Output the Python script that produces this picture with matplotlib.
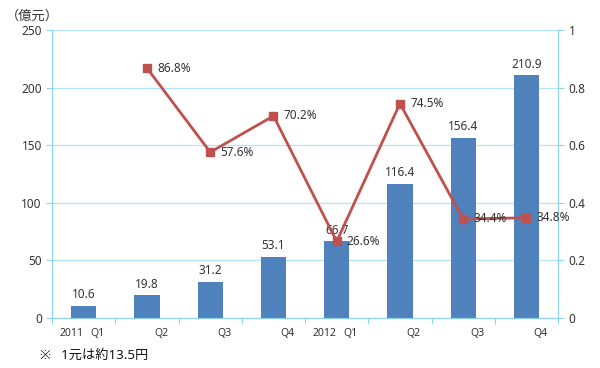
import numpy as np
import matplotlib
matplotlib.use('Agg')
import matplotlib.pyplot as plt
import matplotlib.transforms as mtransforms

plt.rcParams['font.family'] = ['Noto Sans', 'Noto Sans CJK JP', 'DejaVu Sans']

# data
quarters = ['Q1', 'Q2', 'Q3', 'Q4', 'Q1', 'Q2', 'Q3', 'Q4']
years = {0: '2011', 4: '2012'}
sales = [10.6, 19.8, 31.2, 53.1, 66.7, 116.4, 156.4, 210.9]
growth = [None, 0.868, 0.576, 0.702, 0.266, 0.745, 0.344, 0.348]
growth_lbl = ['', '86.8%', '57.6%', '70.2%', '26.6%', '74.5%', '34.4%', '34.8%']

bar_c = '#4F81BD'
line_c = '#C0504D'
axis_c = '#8FD3F0'

fig = plt.figure(figsize=(6, 3.68), dpi=100)
ax = fig.add_axes([0.087, 0.136, 0.843, 0.782])
x = np.arange(len(sales))

ax.bar(x, sales, width=0.4, color=bar_c, zorder=2)
ax.set_xlim(-0.5, 7.5)
ax.set_ylim(0, 250)
ax.set_yticks(np.arange(0, 251, 50))
ax.grid(axis='y', color='#B5E3F7', lw=0.9, zorder=0)
for s in ['left', 'bottom', 'right']:
    ax.spines[s].set_color(axis_c)
ax.spines['top'].set_visible(False)
ax.tick_params(axis='y', colors=axis_c, labelcolor='#333333', labelsize=8.5, length=4)
ax.set_xticks(np.arange(-0.5, 8, 1))
ax.set_xticklabels([])
ax.tick_params(axis='x', colors=axis_c, length=4, direction='out')

for i, v in enumerate(sales):
    ax.text(i, v + 4, '%.1f' % v, ha='center', va='bottom', fontsize=8.5, color='#333333', zorder=5)

# category labels
trans = mtransforms.blended_transform_factory(ax.transData, ax.transAxes)
for i, q in enumerate(quarters):
    ax.text(i + 0.22, -0.035, q, transform=trans, ha='center', va='top', fontsize=7.5, color='#333333')
for i, yr in years.items():
    ax.text(i - 0.2, -0.035, yr, transform=trans, ha='center', va='top', fontsize=7.5, color='#333333')

ax2 = ax.twinx()
ax2.set_ylim(0, 1)
ax2.set_yticks([0, 0.2, 0.4, 0.6, 0.8, 1])
ax2.set_yticklabels(['0', '0.2', '0.4', '0.6', '0.8', '1'])
for s in ['left', 'bottom', 'right']:
    ax2.spines[s].set_color(axis_c)
ax2.spines['top'].set_visible(False)
ax2.tick_params(axis='y', colors=axis_c, labelcolor='#333333', labelsize=8.5, length=4)

gx = [i for i, g in enumerate(growth) if g is not None]
gy = [g for g in growth if g is not None]
ax2.plot(gx, gy, color=line_c, lw=2, marker='s', markersize=6, zorder=4)
for i in gx:
    ax2.text(i + 0.16, growth[i], growth_lbl[i], ha='left', va='center', fontsize=8.5, color='#333333', zorder=5)

fig.text(0.01, 0.955, '（億元）', fontsize=9.5, color='#333333', ha='left', va='center')
fig.text(0.066, 0.035, '※   1元は約13.5円', fontsize=9.5, color='#111111', ha='left', va='center')

fig.savefig('out.png', dpi=100)
